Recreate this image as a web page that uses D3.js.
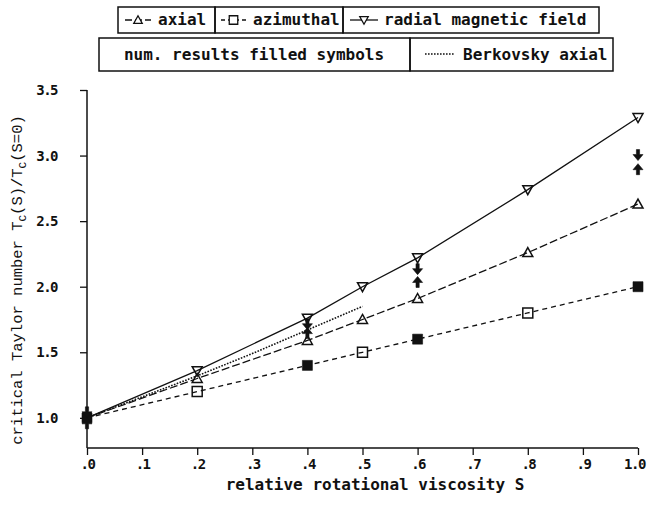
<!DOCTYPE html>
<html>
<head>
<meta charset="utf-8">
<script src="https://cdn.jsdelivr.net/npm/d3@7"></script>
<style>
  body { margin: 0; background: #fff; }
  text { fill: #111; }
  .mono { font-family: "DejaVu Sans Mono", monospace; font-weight: bold; font-size: 16px; }
  .tick text { font-family: "DejaVu Sans Mono", monospace; font-weight: bold; font-size: 14px; letter-spacing: -1.5px; }
</style>
</head>
<body>
<div id="chart"></div>
<script>
// analytic curves, sampled at these S
var S = [0, 0.2, 0.4, 0.5, 0.6, 0.8, 1.0];
var axial = [1.0, 1.30, 1.59, 1.75, 1.91, 2.26, 2.63];
var azimuthal = [1.0, 1.20, 1.40, 1.50, 1.60, 1.80, 2.00];
var radial = [1.0, 1.36, 1.76, 2.00, 2.22, 2.74, 3.29];

// open symbols drawn at these S only
var openAxialS = [0.2, 0.4, 0.5, 0.6, 0.8, 1.0];
var openAzimS = [0.2, 0.5, 0.8];
var openRadialS = [0.2, 0.4, 0.5, 0.6, 0.8, 1.0];

// Berkovsky axial (dotted)
var berkS = [0, 0.1, 0.2, 0.3, 0.4, 0.5];
var berk = [1.0, 1.16, 1.32, 1.49, 1.67, 1.85];

// numerical results (filled symbols)
var numS = [0, 0.4, 0.6, 1.0];
var numAxial = [1.0, 1.65, 2.04, 2.90];
var numAzimuthal = [1.0, 1.40, 1.60, 2.00];
var numRadial = [1.0, 1.71, 2.13, 3.00];

var xTicks = [0, 0.1, 0.2, 0.3, 0.4, 0.5, 0.6, 0.7, 0.8, 0.9, 1.0];
var xTickLabels = ['.0', '.1', '.2', '.3', '.4', '.5', '.6', '.7', '.8', '.9', '1.0'];
var yTicks = [1.0, 1.5, 2.0, 2.5, 3.0, 3.5];
var yTickLabels = ['1.0', '1.5', '2.0', '2.5', '3.0', '3.5'];

var width = 647,
    height = 512;

var svg = d3.select('#chart')
    .append('svg')
    .attr('width', width)
    .attr('height', height);

var x = d3.scaleLinear().domain([0, 1]).range([87, 638]);
var y = d3.scaleLinear().domain([0.77, 3.5]).range([448, 90]);

// axes
var xAxis = svg.append('g')
    .attr('transform', 'translate(0,448)')
    .call(d3.axisBottom(x).tickValues(xTicks).tickSize(7).tickPadding(4)
        .tickFormat(function (d, i) { return xTickLabels[i]; }));
var yAxis = svg.append('g')
    .attr('transform', 'translate(87,0)')
    .call(d3.axisLeft(y).tickValues(yTicks).tickSize(7).tickPadding(23)
        .tickFormat(function (d, i) { return yTickLabels[i]; }));

[xAxis, yAxis].forEach(function (a) {
    a.attr('font-family', null).attr('font-size', null);
    a.selectAll('.tick line').attr('stroke', '#111').attr('stroke-width', 1.3);
    a.selectAll('.tick text').attr('fill', '#111');
});
xAxis.select('.domain').attr('stroke', '#111').attr('stroke-width', 1.5).attr('d', 'M87,0H638');
yAxis.select('.domain').attr('stroke', '#111').attr('stroke-width', 1.5).attr('d', 'M0,448V' + y(3.5));
// last label sits at the page edge, nudge it in
xAxis.selectAll('.tick text').filter(function (d) { return d === 1; }).attr('dx', -4);

// axis titles
svg.append('text')
    .attr('class', 'mono')
    .attr('x', 375)
    .attr('y', 490)
    .attr('text-anchor', 'middle')
    .text('relative rotational viscosity S');

var yTitle = svg.append('text')
    .attr('transform', 'translate(22,280) rotate(-90)')
    .attr('text-anchor', 'middle')
    .style('font-family', '"Liberation Mono", "Courier New", monospace')
    .style('font-size', '15.5px');
yTitle.append('tspan').text('critical Taylor number T');
yTitle.append('tspan').attr('dy', 4).style('font-size', '11px').text('C');
yTitle.append('tspan').attr('dy', -4).text('(S)/T');
yTitle.append('tspan').attr('dy', 4).style('font-size', '11px').text('C');
yTitle.append('tspan').attr('dy', -4).text('(S=0)');

// lines
function series(xs, ys) {
    return xs.map(function (d, i) { return [d, ys[i]]; });
}
var line = d3.line()
    .x(function (d) { return x(d[0]); })
    .y(function (d) { return y(d[1]); });

var plot = svg.append('g').attr('fill', 'none').attr('stroke', '#111').attr('stroke-width', 1.3);
plot.append('path').attr('d', line(series(S, radial)));
plot.append('path').attr('d', line(series(S, axial))).attr('stroke-dasharray', '8,3');
plot.append('path').attr('d', line(series(S, azimuthal))).attr('stroke-dasharray', '5,4');
plot.append('path').attr('d', line(series(berkS, berk))).attr('stroke-dasharray', '1.6,1.4').attr('stroke-width', 1.6);

// symbols
var triUp = 'M0,-5 L5,4 L-5,4 Z',
    triDown = 'M0,5 L5,-4 L-5,-4 Z',
    square = 'M-5,-5 H5 V5 H-5 Z',
    arrowDown = 'M-1.6,-6 H1.6 V-1 H5 L0,5 L-5,-1 H-1.6 Z',
    arrowUp = 'M-1.6,6 H1.6 V1 H5 L0,-5 L-5,1 H-1.6 Z';

function lookup(xs, ys, s) {
    return ys[xs.indexOf(s)];
}

function openSymbols(list, ys, shape) {
    svg.append('g').selectAll('path')
        .data(list)
        .enter().append('path')
        .attr('d', shape)
        .attr('transform', function (d) {
            return 'translate(' + x(d) + ',' + y(lookup(S, ys, d)) + ')';
        })
        .attr('fill', 'none')
        .attr('stroke', '#111')
        .attr('stroke-width', 1.5);
}
openSymbols(openAxialS, axial, triUp);
openSymbols(openAzimS, azimuthal, square);
openSymbols(openRadialS, radial, triDown);

function filledSymbols(ys, shape, dy) {
    svg.append('g').selectAll('path')
        .data(numS)
        .enter().append('path')
        .attr('d', shape)
        .attr('transform', function (d, i) {
            // at S=0 the three coincide; spread them a little like the plot does
            var off = d === 0 ? dy : 0;
            return 'translate(' + x(d) + ',' + (y(ys[i]) + off) + ')';
        })
        .attr('fill', '#111')
        .attr('stroke', '#111')
        .attr('stroke-width', 0.6);
}
filledSymbols(numAzimuthal, square, 0);
filledSymbols(numAxial, arrowUp, 5);
filledSymbols(numRadial, arrowDown, -5);

// legend
var legend = svg.append('g');
function box(x0, y0, x1, y1) {
    legend.append('rect')
        .attr('x', x0).attr('y', y0)
        .attr('width', x1 - x0).attr('height', y1 - y0)
        .attr('fill', 'none').attr('stroke', '#111').attr('stroke-width', 1.5);
}
box(118, 7, 215, 33);
box(215, 7, 343, 33);
box(343, 7, 599, 33);
box(99, 38, 410, 71);
box(410, 38, 613, 71);

function sample(x0, x1, yy, dash, shape) {
    var p = legend.append('line')
        .attr('x1', x0).attr('x2', x1).attr('y1', yy).attr('y2', yy)
        .attr('stroke', '#111').attr('stroke-width', 1.3);
    if (dash) p.attr('stroke-dasharray', dash);
    if (shape) {
        legend.append('path')
            .attr('d', shape)
            .attr('transform', 'translate(' + ((x0 + x1) / 2) + ',' + yy + ') scale(0.85)')
            .attr('fill', '#fff').attr('stroke', '#111').attr('stroke-width', 1.5);
    }
}
function legendText(tx, ty, str, anchor) {
    legend.append('text')
        .attr('class', 'mono')
        .attr('x', tx).attr('y', ty)
        .attr('text-anchor', anchor || 'start')
        .text(str);
}
sample(125, 151, 20, '7,3', triUp);
legendText(158, 25, 'axial');
sample(221, 246, 20, '4,3', square);
legendText(253, 25, 'azimuthal');
sample(350, 378, 20, null, triDown);
legendText(384, 25, 'radial magnetic field');
legendText(254, 60, 'num. results filled symbols', 'middle');
sample(425, 455, 54, '1.6,1.4', null);
legendText(463, 60, 'Berkovsky axial');
</script>
</body>
</html>
